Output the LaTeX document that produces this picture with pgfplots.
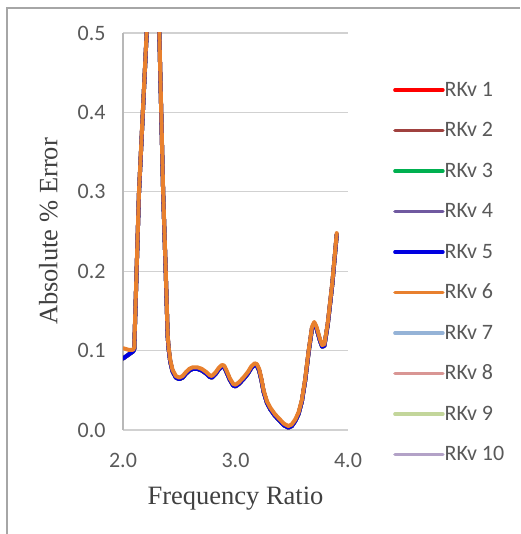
\documentclass[border=0pt]{standalone}
\usepackage{pgfplots}
\pgfplotsset{compat=1.18}
\usepackage{fontspec}
\setmainfont{Liberation Serif}
\newfontfamily\calibri{Carlito}
\definecolor{rk1}{HTML}{FF0000}
\definecolor{rk2}{HTML}{A0413F}
\definecolor{rk3}{HTML}{00B050}
\definecolor{rk4}{HTML}{7059A0}
\definecolor{rk5}{HTML}{0000E0}
\definecolor{rk6}{HTML}{E8802E}
\definecolor{rk7}{HTML}{95B3D7}
\definecolor{rk8}{HTML}{D99694}
\definecolor{rk9}{HTML}{C3D69B}
\definecolor{rk10}{HTML}{B3A2C7}
\definecolor{ticktxt}{HTML}{595959}
\definecolor{labtxt}{HTML}{404040}
\pgfplotstableread{
x y
2.00 0.090
2.03 0.093
2.06 0.096
2.09 0.099
2.10 0.102
2.142 0.298
2.21 0.498
2.27 0.66
2.323 0.498
2.357 0.298
2.38 0.198
2.397 0.118
2.405 0.103
2.42 0.086
2.44 0.074
2.47 0.066
2.50 0.064
2.53 0.066
2.56 0.071
2.59 0.075
2.62 0.077
2.66 0.077
2.70 0.075
2.74 0.071
2.77 0.067
2.79 0.066
2.82 0.070
2.85 0.076
2.88 0.080
2.90 0.079
2.92 0.073
2.95 0.063
2.98 0.056
3.00 0.055
3.03 0.058
3.07 0.064
3.11 0.071
3.14 0.078
3.17 0.082
3.19 0.081
3.21 0.075
3.23 0.063
3.25 0.048
3.28 0.034
3.31 0.026
3.35 0.018
3.39 0.012
3.43 0.006
3.47 0.003
3.50 0.005
3.53 0.011
3.56 0.020
3.59 0.036
3.62 0.063
3.65 0.098
3.68 0.128
3.70 0.134
3.72 0.128
3.75 0.113
3.77 0.105
3.79 0.106
3.82 0.133
3.86 0.183
3.90 0.246
}\blue
\pgfplotstableread{
x y
2.00 0.103
2.05 0.101
2.09 0.101
2.10 0.104
2.142 0.300
2.21 0.500
2.27 0.66
2.323 0.500
2.357 0.300
2.38 0.200
2.397 0.120
2.405 0.105
2.42 0.088
2.44 0.076
2.47 0.068
2.50 0.066
2.53 0.068
2.56 0.073
2.59 0.077
2.62 0.079
2.66 0.079
2.70 0.077
2.74 0.073
2.77 0.069
2.79 0.068
2.82 0.072
2.85 0.078
2.88 0.082
2.90 0.081
2.92 0.075
2.95 0.065
2.98 0.058
3.00 0.057
3.03 0.060
3.07 0.066
3.11 0.073
3.14 0.080
3.17 0.084
3.19 0.083
3.21 0.077
3.23 0.065
3.25 0.050
3.28 0.036
3.31 0.028
3.35 0.020
3.39 0.014
3.43 0.008
3.47 0.005
3.50 0.007
3.53 0.013
3.56 0.022
3.59 0.038
3.62 0.065
3.65 0.100
3.68 0.130
3.70 0.136
3.72 0.130
3.75 0.115
3.77 0.107
3.79 0.108
3.82 0.135
3.86 0.185
3.90 0.248
}\orange
\begin{document}
\begin{tikzpicture}[x=1pt,y=1pt]
\useasboundingbox (0,0) rectangle (520,534);
\draw[color=black!35,line width=2.2pt] (7,0) -- (7,526) -- (520,526);
\begin{axis}[
  at={(123pt,104pt)}, anchor=south west,
  scale only axis, width=225pt, height=397pt,
  xmin=2, xmax=4, ymin=0, ymax=0.5,
  xtick={2,3,4}, ytick={0,0.1,0.2,0.3,0.4,0.5},
  major tick length=0pt,
  axis x line*=bottom, axis y line*=left,
  x axis line style={draw=none},
  y axis line style={draw=black!28, line width=1.2pt},
  ymajorgrids, grid style={draw=black!18, line width=1.2pt},
  xticklabel style={/pgf/number format/.cd,fixed,fixed zerofill,precision=1},
  yticklabel style={/pgf/number format/.cd,fixed,fixed zerofill,precision=1},
  /pgf/number format/assume math mode=true,
  tick label style={font=\calibri\fontsize{22}{22}\selectfont, text=ticktxt},
  xticklabel shift=20pt, yticklabel shift=14pt,
  xlabel={Frequency Ratio}, ylabel={Absolute \% Error},
  label style={font=\fontsize{26.5}{26.5}\selectfont, text=labtxt},
  xlabel shift=12pt, ylabel shift=13pt,
  clip=true,
  legend style={at={(axis description cs:1.2,0.877)}, anchor=north west,
    draw=none, fill=none, inner sep=0pt, row sep=22.5pt,
    font=\calibri\fontsize{22}{22}\selectfont, text=ticktxt,
    nodes={inner sep=0pt, text height=14pt, text depth=4pt}},
  legend cell align=left,
  legend image code/.code={\draw[#1, line width=3.5pt] (0pt,1pt) -- (48pt,1pt);},
  every axis plot/.append style={line width=4pt, line join=round, line cap=round},
]
\addplot[rk1] table {\blue};
\addplot[rk2] table {\blue};
\addplot[rk3] table {\blue};
\addplot[rk4] table {\blue};
\addplot[rk5] table {\blue};
\addplot[rk6] table {\orange};
\addlegendimage{rk7}
\addlegendimage{rk8}
\addlegendimage{rk9}
\addlegendimage{rk10}
\legend{RKv 1,RKv 2,RKv 3,RKv 4,RKv 5,RKv 6,RKv 7,RKv 8,RKv 9,RKv 10}
\end{axis}
\end{tikzpicture}
\end{document}
